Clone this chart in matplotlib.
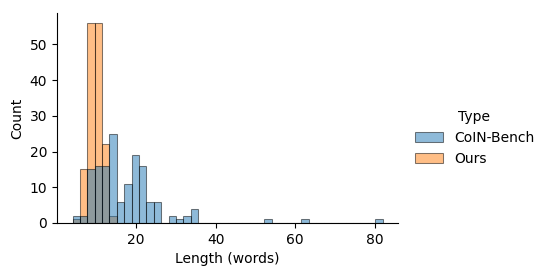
import numpy as np
from matplotlib import pyplot as plt
from matplotlib.patches import Patch

# histogram counts per bin (42 bins from 4 to 82 words)
bin_lo = 4
bin_hi = 82
n_bins = 42
coin_counts = [2, 2, 15, 16, 16, 25, 6, 11, 19, 16, 6, 6, 0, 2, 1, 2, 4,
               0, 0, 0, 0, 0, 0, 0, 0, 0, 1, 0, 0, 0, 0, 1,
               0, 0, 0, 0, 0, 0, 0, 0, 0, 1]
ours_counts = [1, 15, 56, 56, 22, 2] + [0] * 36
types = ["CoIN-Bench", "Ours"]
colors = ["#1f77b4", "#ff7f0e"]

edges = np.linspace(bin_lo, bin_hi, n_bins + 1)
centers = (edges[:-1] + edges[1:]) / 2

fig = plt.figure(figsize=(5.38, 2.78), dpi=100)
ax = fig.add_axes([0.106, 0.198, 0.634, 0.755])

# seaborn layers hue levels in reverse order
for counts, c in [(ours_counts, colors[1]), (coin_counts, colors[0])]:
    ax.hist(centers, bins=edges, weights=counts, facecolor=c, alpha=0.5,
            edgecolor="black", linewidth=0.75)

ax.set_xlabel("Length (words)")
ax.set_ylabel("Count")
ax.set_xticks([20, 40, 60, 80])
ax.set_yticks([0, 10, 20, 30, 40, 50])
ax.spines["top"].set_visible(False)
ax.spines["right"].set_visible(False)

handles = [Patch(facecolor=c, alpha=0.5, edgecolor="black", linewidth=0.75) for c in colors]
fig.legend(handles, types, title="Type", loc="center left",
           bbox_to_anchor=(0.748, 0.505), frameon=False)

fig.savefig("out.png", dpi=100)
